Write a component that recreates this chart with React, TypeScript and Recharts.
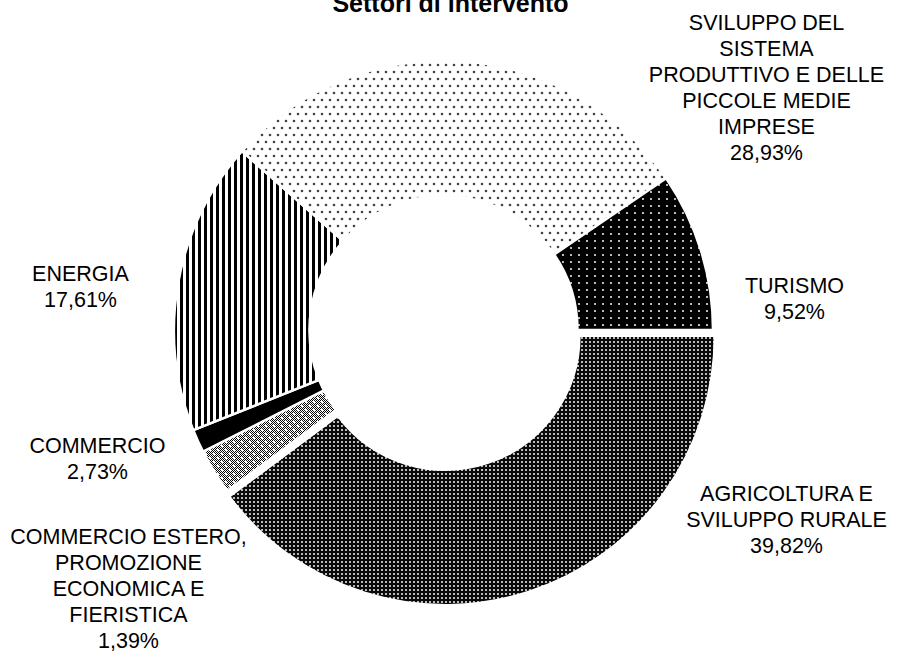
import React from 'react';
import { PieChart, Pie, Cell } from 'recharts';

const title = 'Settori di intervento';
const categories = [
  'AGRICOLTURA E\nSVILUPPO RURALE',
  'COMMERCIO',
  'COMMERCIO ESTERO,\nPROMOZIONE\nECONOMICA E\nFIERISTICA',
  'ENERGIA',
  'SVILUPPO DEL\nSISTEMA\nPRODUTTIVO E DELLE\nPICCOLE MEDIE\nIMPRESE',
  'TURISMO',
];
const shares = [39.82, 2.73, 1.39, 17.61, 28.93, 9.52];

const data = categories.map((name, i) => ({ name, value: shares[i] }));

const W = 897;
const H = 653;
const CX = 443.5;
const CY = 330;
const OUTER = 269.5;
const INNER = 134;
const EXPLODE_INDEX = 0;
const EXPLODE_DIST = 6;
const FONT = '"Liberation Sans", Arial, sans-serif';
const FONT_SIZE = 21.5;
const LINE_H = 26;

const FILLS = ['url(#pAgri)', 'url(#pComm)', '#000000', 'url(#pEnergia)', 'url(#pSvil)', 'url(#pTur)'];
// label block centres relative to pie centre
const LABEL_OFFSETS: [number, number][] = [
  [343, 189],
  [-346, 128],
  [-315, 258],
  [-363, -44],
  [323, -243],
  [351, -32],
];

const total = shares.reduce((a, b) => a + b, 0);
const startOf = (idx: number) => shares.slice(0, idx).reduce((a, b) => a + b, 0);
const midDeg = -((startOf(EXPLODE_INDEX) + shares[EXPLODE_INDEX] / 2) / total) * 360;
const EX_DX = EXPLODE_DIST * Math.cos((midDeg * Math.PI) / 180);
const EX_DY = -EXPLODE_DIST * Math.sin((midDeg * Math.PI) / 180);

const fmt = (v: number) => v.toFixed(2).replace('.', ',') + '%';

const renderLabel = (props: any) => {
  const index = props.index;
  const cx = typeof props.cx === 'number' ? props.cx : CX;
  const cy = typeof props.cy === 'number' ? props.cy : CY;
  const [dx, dy] = LABEL_OFFSETS[index];
  const lines = [...categories[index].split('\n'), fmt(shares[index])];
  const x = cx + dx;
  const y0 = cy + dy - ((lines.length - 1) * LINE_H) / 2 + FONT_SIZE * 0.35;
  return (
    <text
      key={`lbl-${index}`}
      x={x}
      y={y0}
      textAnchor="middle"
      fontFamily={FONT}
      fontSize={FONT_SIZE}
      fill="#000"
    >
      {lines.map((l, i) => (
        <tspan key={i} x={x} y={y0 + i * LINE_H}>
          {l}
        </tspan>
      ))}
    </text>
  );
};

const Patterns = () => (
  <svg width={0} height={0} style={{ position: 'absolute' }}>
    <defs>
      <pattern id="pChecker" width={2} height={2} patternUnits="userSpaceOnUse">
        <rect width={2} height={2} fill="#ffffff" />
        <rect x={0} y={0} width={1} height={1} fill="#000" />
        <rect x={1} y={1} width={1} height={1} fill="#000" />
      </pattern>
      <pattern id="pAgri" width={4} height={4} patternUnits="userSpaceOnUse">
        <rect width={4} height={4} fill="#0a0a0a" />
        <rect x={1} y={1} width={2} height={2} fill="#bbbbbb" />
      </pattern>
      <pattern id="pComm" width={8} height={8} patternUnits="userSpaceOnUse">
        <rect width={8} height={8} fill="url(#pChecker)" />
        <circle cx={2} cy={2} r={1.2} fill="#fff" />
        <circle cx={6} cy={6} r={1.2} fill="#fff" />
      </pattern>
      <pattern id="pEnergia" width={6} height={6} patternUnits="userSpaceOnUse">
        <rect width={6} height={6} fill="#fff" />
        <rect x={0} y={0} width={3} height={6} fill="#000" />
      </pattern>
      <pattern id="pSvil" width={8} height={14} patternUnits="userSpaceOnUse">
        <rect width={8} height={14} fill="#fff" />
        <circle cx={2} cy={2} r={1.3} fill="#444" />
        <circle cx={6} cy={9} r={1.3} fill="#444" />
      </pattern>
      <pattern id="pTur" width={8} height={7} patternUnits="userSpaceOnUse">
        <rect width={8} height={7} fill="#000" />
        <circle cx={3} cy={3} r={1.1} fill="#e6e6e6" />
      </pattern>
    </defs>
  </svg>
);

export default function App() {
  return (
    <div style={{ position: 'absolute', left: 0, top: 0, width: W, height: H, background: '#fff' }}>
      <Patterns />
      <PieChart width={W} height={H} margin={{ top: 0, right: 0, bottom: 0, left: 0 }}>
        <Pie
          data={data}
          dataKey="value"
          nameKey="name"
          cx={CX}
          cy={CY}
          innerRadius={INNER}
          outerRadius={OUTER}
          startAngle={0}
          endAngle={-360}
          stroke="#fff"
          strokeWidth={2.5}
          label={renderLabel}
          labelLine={false}
          isAnimationActive={false}
        >
          {data.map((d, i) => (
            <Cell
              key={`c-${i}`}
              fill={i === EXPLODE_INDEX ? 'none' : FILLS[i]}
              stroke={i === EXPLODE_INDEX ? 'none' : '#fff'}
            />
          ))}
        </Pie>
        <Pie
          data={data}
          dataKey="value"
          nameKey="name"
          cx={CX + EX_DX}
          cy={CY + EX_DY}
          innerRadius={INNER}
          outerRadius={OUTER}
          startAngle={0}
          endAngle={-360}
          stroke="#fff"
          strokeWidth={2.5}
          isAnimationActive={false}
        >
          {data.map((d, i) => (
            <Cell
              key={`e-${i}`}
              fill={i === EXPLODE_INDEX ? FILLS[i] : 'none'}
              stroke={i === EXPLODE_INDEX ? '#fff' : 'none'}
            />
          ))}
        </Pie>
      </PieChart>
      <div
        style={{
          position: 'absolute',
          left: 0,
          width: W,
          top: -11,
          textAlign: 'center',
          fontFamily: FONT,
          fontWeight: 'bold',
          fontSize: 25,
          lineHeight: '28px',
          pointerEvents: 'none',
          paddingLeft: 2,
        }}
      >
        {title}
      </div>
    </div>
  );
}
